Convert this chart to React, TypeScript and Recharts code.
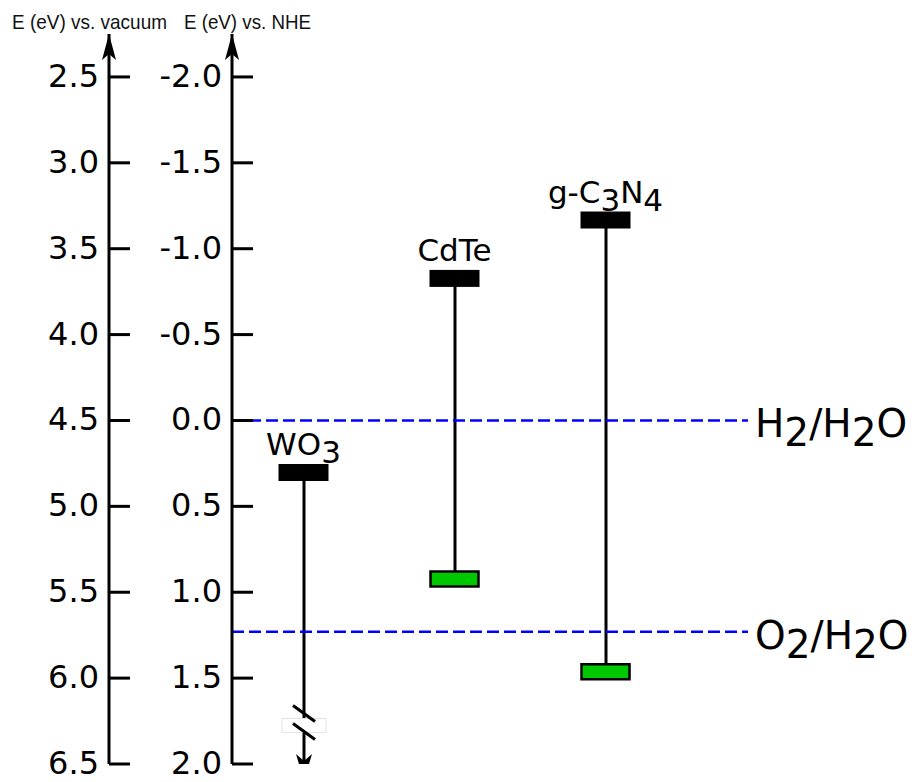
import React from "react";
import { ComposedChart, Bar, Line, XAxis, YAxis, ReferenceLine, LabelList } from "recharts";

// band edges in eV vs NHE
const materials = ["WO3", "CdTe", "g-C3N4"];
const cbEdge = [0.3, -0.83, -1.17];
const vbEdge = [null, 0.92, 1.46]; // WO3 valence band is below the drawn range
const lineEnd = [2.0, 0.92, 1.46];
const breakAt = [1.77, null, null];

const nheTicks = [-2.0, -1.5, -1.0, -0.5, 0.0, 0.5, 1.0, 1.5, 2.0];
const vacTicks = [2.5, 3.0, 3.5, 4.0, 4.5, 5.0, 5.5, 6.0, 6.5];

const redoxNames = ["H2/H2O", "O2/H2O"];
const redoxLevels = [0.0, 1.23];

const data = materials.map((name, i) => ({
  name,
  cb: cbEdge[i],
  vb: vbEdge[i],
  span: [cbEdge[i], lineEnd[i]],
  brk: breakAt[i],
}));

const FONT = "DejaVu Sans, Verdana, sans-serif";

// digits are drawn lowered, like the subscripts in the figure
function withSubs(s: string, drop: number) {
  const parts = s.match(/\d+|\D+/g) || [];
  let low = false;
  return parts.map((p, i) => {
    const isNum = /\d/.test(p);
    const dy = isNum === low ? 0 : isNum ? drop : -drop;
    low = isNum;
    return (
      <tspan key={i} dy={dy}>
        {p}
      </tspan>
    );
  });
}

function AxisTick(props: any) {
  const { x, y, payload } = props;
  return (
    <g>
      <line x1={x + 10} x2={x + 31} y1={y} y2={y} stroke="#000" strokeWidth={3} />
      <text x={x} y={y} dy={10} textAnchor="end" fontFamily={FONT} fontSize={32} fill="#000">
        {Number(payload.value).toFixed(1)}
      </text>
    </g>
  );
}

function BandLine(props: any) {
  const { x, y, width, height, payload } = props;
  const cx = x + width / 2;
  const top = Math.min(y, y + height);
  const bottom = Math.max(y, y + height);
  if (payload.brk == null) {
    return <line x1={cx} x2={cx} y1={top} y2={bottom} stroke="#000" strokeWidth={3} />;
  }
  const [from, to] = payload.span;
  const by = top + ((payload.brk - from) / (to - from)) * (bottom - top);
  const tip = bottom + 17;
  return (
    <g>
      <line x1={cx} x2={cx} y1={top} y2={tip - 14} stroke="#000" strokeWidth={3} />
      <rect x={cx - 22} y={by - 6} width={44} height={14} fill="#fff" stroke="#e4e4e4" strokeWidth={1} />
      <line x1={cx - 11} y1={by - 19} x2={cx + 11} y2={by - 3} stroke="#000" strokeWidth={3} />
      <line x1={cx - 11} y1={by - 1} x2={cx + 11} y2={by + 15} stroke="#000" strokeWidth={3} />
      <path d={`M${cx},${tip} L${cx - 8},${tip - 27} L${cx},${tip - 20} L${cx + 8},${tip - 27} Z`} fill="#000" />
    </g>
  );
}

function CbDot(props: any) {
  const { cx, cy, value } = props;
  if (value == null || cy == null || isNaN(cy)) return null;
  return <rect x={cx - 25} y={cy - 8} width={50} height={17} fill="#000" />;
}

function VbDot(props: any) {
  const { cx, cy, value } = props;
  if (value == null || cy == null || isNaN(cy)) return null;
  return <rect x={cx - 24} y={cy - 7} width={48} height={15} fill="#00c800" stroke="#000" strokeWidth={2.5} />;
}

function MatLabel(props: any) {
  const { x, y, value } = props;
  return (
    <text x={x} y={y - 17} textAnchor="middle" fontFamily={FONT} fontSize={31} fill="#000">
      {withSubs(String(value), 8)}
    </text>
  );
}

function RedoxLabel(props: any) {
  const { viewBox, text } = props;
  return (
    <text x={viewBox.x + viewBox.width + 7} y={viewBox.y + 17} fontFamily={FONT} fontSize={39} fill="#000">
      {withSubs(text, 9)}
    </text>
  );
}

const axisLine = { stroke: "#000", strokeWidth: 3, markerStart: "url(#upArrow)" };

export default function App() {
  return (
    <div style={{ position: "absolute", left: 0, top: 0 }}>
      <svg width={0} height={0} style={{ position: "absolute" }}>
        <defs>
          <marker
            id="upArrow"
            viewBox="-8 -1 16 30"
            refX={0}
            refY={0}
            markerWidth={16}
            markerHeight={30}
            markerUnits="userSpaceOnUse"
            orient="0"
            overflow="visible"
          >
            <path d="M0,0 L7,26 L0,20 L-7,26 Z" fill="#000" />
          </marker>
        </defs>
      </svg>
      <ComposedChart width={919} height={782} data={data} margin={{ top: 34, right: 171, bottom: 18, left: 0 }}>
        <XAxis dataKey="name" type="category" hide padding={{ left: -4, right: 67 }} />
        <YAxis
          yAxisId="nhe"
          type="number"
          width={123}
          domain={[-2.25, 2]}
          reversed
          allowDataOverflow
          ticks={nheTicks}
          interval={0}
          tickSize={0}
          tickMargin={10}
          tickLine={false}
          axisLine={axisLine}
          tick={(p: any) => <AxisTick {...p} />}
        />
        <YAxis
          yAxisId="vac"
          type="number"
          width={109}
          domain={[2.25, 6.5]}
          reversed
          allowDataOverflow
          ticks={vacTicks}
          interval={0}
          tickSize={0}
          tickMargin={10}
          tickLine={false}
          axisLine={axisLine}
          tick={(p: any) => <AxisTick {...p} />}
        />
        {redoxLevels.map((lv, i) => (
          <ReferenceLine
            key={redoxNames[i]}
            yAxisId="nhe"
            y={lv}
            stroke="#0000ff"
            strokeWidth={2.5}
            strokeDasharray="12 5"
            label={<RedoxLabel text={redoxNames[i]} />}
          />
        ))}
        <Bar yAxisId="nhe" dataKey="span" barSize={50} shape={<BandLine />} isAnimationActive={false} />
        <Line
          yAxisId="nhe"
          dataKey="cb"
          stroke="none"
          dot={(p: any) => <CbDot key={p.index} {...p} />}
          activeDot={false}
          isAnimationActive={false}
        >
          <LabelList dataKey="name" content={(p: any) => <MatLabel {...p} />} />
        </Line>
        <Line
          yAxisId="nhe"
          dataKey="vb"
          stroke="none"
          dot={(p: any) => <VbDot key={p.index} {...p} />}
          activeDot={false}
          isAnimationActive={false}
        />
        <text x={12} y={29} fontFamily="Liberation Sans Narrow, Liberation Sans, sans-serif" fontSize={21} textLength={155} lengthAdjust="spacingAndGlyphs" fill="#111">
          E (eV) vs. vacuum
        </text>
        <text x={184} y={29} fontFamily="Liberation Sans Narrow, Liberation Sans, sans-serif" fontSize={21} textLength={127} lengthAdjust="spacingAndGlyphs" fill="#111">
          E (eV) vs. NHE
        </text>
      </ComposedChart>
    </div>
  );
}
